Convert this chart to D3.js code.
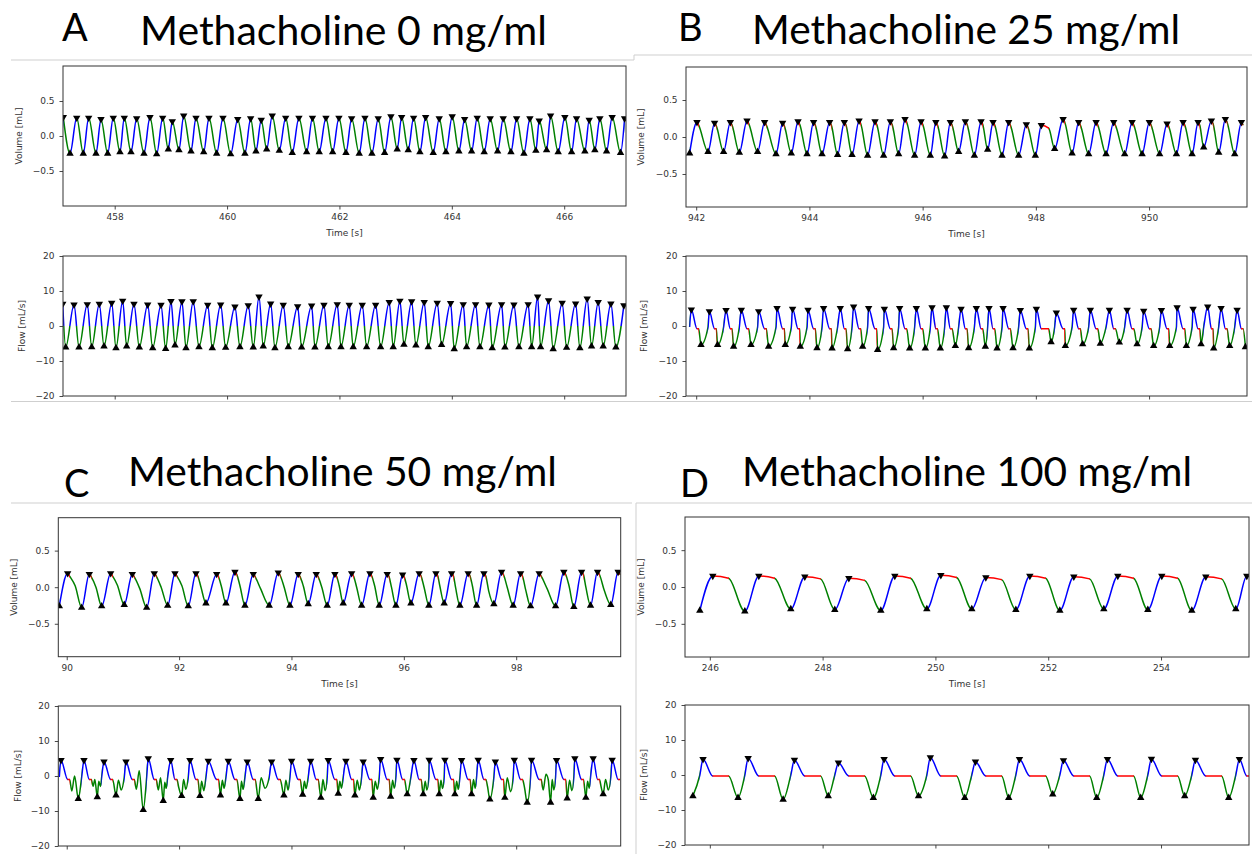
<!DOCTYPE html>
<html><head><meta charset="utf-8">
<script src="https://cdn.jsdelivr.net/npm/d3@7"></script>
<style>body{margin:0;background:#fff;}svg{display:block;}</style>
</head><body>
<svg id="fig" width="1252" height="854"></svg>
<script>
// ---------------- DATA ----------------
const letters = ["A","B","C","D"];
const titles = ["Methacholine 0 mg/ml","Methacholine 25 mg/ml","Methacholine 50 mg/ml","Methacholine 100 mg/ml"];
const volTicks = [0.5, 0, -0.5];
const flowTicks = [20, 10, 0, -10, -20];
const A_xTicks = [458,460,462,464,466];
const B_xTicks = [942,944,946,948,950];
const C_xTicks = [90,92,94,96,98];
const D_xTicks = [246,248,250,252,254];

// Panel A (0 mg/ml)
const A_volPeakT = [457.085,457.324,457.537,457.756,457.975,458.171,458.391,458.628,458.854,459.025,459.228,459.447,459.678,459.927,460.189,460.42,460.608,460.804,461.043,461.279,461.52,461.76,461.991,462.217,462.454,462.69,462.916,463.107,463.32,463.534,463.776,464.007,464.228,464.452,464.683,464.915,465.153,465.39,465.555,465.758,466.012,466.22,466.445,466.635,466.854,467.075];
const A_volPeakV = [0.27,0.26,0.26,0.24,0.26,0.26,0.25,0.27,0.26,0.21,0.29,0.26,0.26,0.26,0.24,0.25,0.23,0.29,0.26,0.26,0.26,0.26,0.26,0.25,0.26,0.25,0.28,0.27,0.26,0.27,0.25,0.28,0.24,0.26,0.25,0.25,0.25,0.25,0.22,0.29,0.27,0.25,0.23,0.25,0.27,0.25];
const A_volTroughT = [457.205,457.441,457.667,457.875,458.094,458.29,458.521,458.747,458.954,459.144,459.358,459.584,459.815,460.064,460.318,460.514,460.705,460.929,461.16,461.416,461.64,461.879,462.116,462.352,462.578,462.804,463.028,463.224,463.432,463.669,463.895,464.126,464.352,464.576,464.815,465.052,465.283,465.496,465.687,465.893,466.132,466.368,466.546,466.754,467.003];
const A_volTroughV = [-0.25,-0.25,-0.25,-0.25,-0.23,-0.23,-0.25,-0.26,-0.19,-0.2,-0.22,-0.23,-0.25,-0.26,-0.25,-0.22,-0.19,-0.21,-0.24,-0.23,-0.23,-0.23,-0.24,-0.25,-0.25,-0.24,-0.19,-0.2,-0.23,-0.24,-0.23,-0.22,-0.22,-0.23,-0.22,-0.23,-0.25,-0.21,-0.2,-0.23,-0.23,-0.22,-0.2,-0.22,-0.24];
const A_flowPeakT = [457.075,457.276,457.512,457.726,457.947,458.142,458.343,458.587,458.824,459.002,459.197,459.398,459.655,459.886,460.14,460.377,460.568,460.776,461.0,461.256,461.505,461.724,461.961,462.174,462.406,462.644,462.886,463.076,463.285,463.509,463.74,463.978,464.203,464.423,464.66,464.886,465.105,465.359,465.527,465.722,465.964,466.203,466.409,466.605,466.831,467.062];
const A_flowPeakV = [6.3,6.1,6.2,6.3,6.6,7.2,6.3,6.1,6.0,7.1,7.0,7.0,6.0,6.1,5.5,5.9,8.4,6.4,6.0,5.6,5.8,6.0,6.2,6.0,6.0,6.0,6.8,7.2,7.0,6.8,6.6,6.5,6.2,6.2,6.1,6.2,6.1,6.2,8.4,7.3,6.6,6.4,7.8,6.8,6.4,5.9];
const A_flowTroughT = [457.128,457.365,457.591,457.81,458.023,458.213,458.438,458.676,458.907,459.073,459.269,459.5,459.737,459.975,460.229,460.466,460.644,460.852,461.089,461.327,461.564,461.801,462.027,462.245,462.484,462.733,462.957,463.148,463.361,463.58,463.818,464.043,464.263,464.5,464.719,464.945,465.194,465.42,465.58,465.804,466.043,466.279,466.487,466.694,466.92];
const A_flowTroughV = [-6.1,-6.1,-6.0,-5.8,-6.3,-5.8,-6.1,-6.3,-6.5,-5.5,-6.3,-6.0,-6.3,-6.2,-6.0,-6.1,-5.8,-6.3,-6.0,-6.1,-6.1,-6.0,-6.0,-6.0,-6.0,-6.0,-6.0,-5.3,-5.5,-6.0,-5.4,-6.6,-6.0,-6.0,-6.3,-6.1,-6.0,-6.0,-6.0,-6.6,-6.2,-6.3,-5.8,-5.8,-6.1];

// Panel B (25 mg/ml)
const B_volPeakT = [942.014,942.325,942.603,942.898,943.209,943.527,943.799,944.074,944.357,944.617,944.877,945.159,945.43,945.689,945.972,946.233,946.49,946.755,947.032,947.244,947.52,947.832,948.097,948.481,948.756,949.064,949.375,949.70,950.005,950.318,950.601,950.866,951.101,951.348,951.631];
const B_volPeakV = [0.20,0.19,0.20,0.22,0.20,0.19,0.21,0.20,0.20,0.20,0.22,0.21,0.21,0.24,0.21,0.20,0.20,0.21,0.21,0.20,0.20,0.17,0.16,0.24,0.20,0.20,0.20,0.20,0.20,0.18,0.20,0.20,0.22,0.24,0.20];
const B_pause = [0.03,0.03,0.03,0.03,0.03,0.03,0.03,0.03,0.03,0.03,0.03,0.03,0.03,0.03,0.03,0.03,0.03,0.03,0.03,0.03,0.03,0.03,0.13,0.03,0.03,0.03,0.03,0.03,0.03,0.03,0.03,0.03,0.03,0.03,0.03];
const B_volTroughT = [941.884,942.209,942.484,942.762,943.085,943.41,943.68,943.958,944.223,944.498,944.753,945.028,945.311,945.576,945.859,946.136,946.389,946.636,946.914,947.149,947.403,947.696,947.991,948.332,948.64,948.933,949.24,949.569,949.877,950.187,950.483,950.76,950.965,951.23,951.513];
const B_volTroughV = [-0.22,-0.20,-0.20,-0.21,-0.20,-0.23,-0.22,-0.23,-0.23,-0.24,-0.24,-0.25,-0.25,-0.23,-0.25,-0.25,-0.26,-0.20,-0.25,-0.17,-0.25,-0.25,-0.25,-0.16,-0.22,-0.23,-0.23,-0.23,-0.23,-0.23,-0.23,-0.23,-0.14,-0.21,-0.23];
const B_flowPeakT = [941.914,942.232,942.527,942.797,943.103,943.428,943.703,943.975,944.251,944.546,944.781,945.046,945.324,945.594,945.889,946.166,946.419,946.679,946.949,947.173,947.421,947.726,948.009,948.362,948.668,948.963,949.299,949.612,949.905,950.218,950.495,950.778,951.036,951.272,951.555];
const B_flowPeakV = [4.7,4.2,4.5,4.6,4.2,5.1,4.9,4.6,5.1,5.1,5.5,5.1,4.9,5.1,5.1,5.3,5.3,4.9,5.1,5.1,5.1,4.5,4.9,3.8,4.6,4.6,4.6,4.6,4.3,4.5,5.3,4.9,5.5,5.1,4.6];
const B_flowTroughT = [942.085,942.378,942.661,942.968,943.279,943.574,943.839,944.134,944.40,944.675,944.94,945.205,945.488,945.771,946.048,946.313,946.578,946.813,947.108,947.315,947.597,947.885,948.269,948.521,948.827,949.14,949.475,949.788,950.081,950.364,950.659,950.919,951.142,951.424,951.702];
const B_flowTroughV = [-5.4,-5.4,-5.9,-5.4,-5.9,-5.4,-5.9,-6.3,-6.4,-6.6,-5.9,-6.8,-6.3,-6.4,-6.4,-6.4,-5.7,-6.3,-5.9,-6.4,-6.3,-6.4,-4.6,-5.7,-5.2,-5.0,-4.7,-5.2,-5.7,-5.7,-5.7,-5.2,-6.4,-5.7,-6.0];

// Panel C (50 mg/ml)
const C_volPeakT = [90.017,90.402,90.782,91.167,91.558,91.927,92.30,92.669,92.994,93.32,93.765,94.12,94.441,94.773,95.071,95.396,95.704,95.978,96.273,96.571,96.85,97.145,97.425,97.74,98.078,98.409,98.848,99.163,99.448,99.814];
const C_volPeakV = [0.19,0.18,0.19,0.18,0.19,0.19,0.19,0.18,0.21,0.18,0.20,0.18,0.18,0.18,0.19,0.19,0.18,0.17,0.19,0.19,0.19,0.19,0.19,0.21,0.19,0.19,0.21,0.21,0.21,0.21];
const C_pause = [0.035,0.035,0.035,0.035,0.035,0.035,0.035,0.035,0.035,0.035,0.035,0.035,0.035,0.035,0.035,0.035,0.035,0.035,0.035,0.035,0.035,0.035,0.035,0.035,0.035,0.035,0.035,0.035,0.035,0.035];
const C_volTroughT = [89.868,90.266,90.622,91.024,91.423,91.797,92.163,92.478,92.834,93.172,93.604,93.973,94.298,94.636,94.921,95.249,95.562,95.859,96.126,96.446,96.718,96.998,97.295,97.603,97.946,98.256,98.701,99.026,99.323,99.684];
const C_volTroughV = [-0.26,-0.28,-0.26,-0.24,-0.28,-0.25,-0.26,-0.22,-0.22,-0.25,-0.25,-0.25,-0.23,-0.25,-0.22,-0.25,-0.25,-0.25,-0.22,-0.25,-0.22,-0.25,-0.25,-0.23,-0.25,-0.26,-0.26,-0.27,-0.25,-0.24];
const C_volPlateauT = [90.15,90.52,90.9,91.3,91.68,92.05,92.39,92.75,93.08,93.45,93.87,94.21,94.54,94.85,95.16,95.48,95.78,96.05,96.36,96.64,96.92,97.22,97.51,97.84,98.17,98.55,98.94,99.24,99.57];
const C_volPlateauV = [0.02,0.0,0.03,-0.02,0.0,0.02,0.0,0.02,0.03,-0.02,0.0,0.02,0.0,0.02,0.0,0.02,0.0,0.02,0.0,0.02,0.0,0.02,-0.05,0.0,-0.04,-0.02,0.02,0.0,-0.05];
const C_flowPeakT = [89.898,90.307,90.663,91.055,91.451,91.85,92.193,92.519,92.875,93.213,93.647,94.003,94.341,94.654,94.969,95.277,95.587,95.877,96.179,96.451,96.731,97.028,97.323,97.629,97.967,98.273,98.718,99.044,99.37,99.708];
const C_flowPeakV = [4.5,4.5,4.1,4.1,5.0,4.5,4.5,4.3,4.3,4.1,4.1,4.3,4.3,4.5,4.3,4.1,4.8,4.6,4.5,4.6,4.6,4.5,4.6,4.1,4.6,4.6,4.5,5.0,5.0,4.6];
const C_flowTroughT = [90.206,90.544,90.877,91.362,91.718,92.046,92.371,92.736,93.083,93.409,93.866,94.199,94.524,94.832,95.129,95.455,95.765,96.06,96.345,96.629,96.909,97.206,97.531,97.798,98.195,98.612,98.907,99.24,99.548];
const C_flowTroughV = [-6.5,-6.0,-5.5,-9.7,-7.1,-5.7,-5.7,-5.5,-6.5,-6.5,-5.5,-5.3,-6.2,-5.0,-5.5,-6.2,-5.9,-5.2,-5.2,-5.2,-5.2,-5.2,-6.7,-6.2,-7.6,-7.6,-6.4,-6.2,-5.2];
// secondary dips / recoveries in the jagged expiratory flow of panel C
const C_flowWiggleT = [90.09,90.14,90.47,90.50,90.57,90.60,90.92,90.97,91.24,91.29,91.63,91.67,91.745,91.77,91.99,92.08,92.12,92.40,92.44,92.77,92.80,93.11,93.14,93.46,93.53,93.90,93.94,94.23,94.26,94.56,94.60,94.86,94.89,95.17,95.21,95.49,95.53,95.80,95.83,96.38,96.41,96.66,96.69,96.94,96.97,97.24,97.27,97.49,97.84,97.90,98.15,98.48,98.53,98.57,98.64,98.67,98.95,98.99,99.27,99.30,99.51,99.59,99.64];
const C_flowWiggleV = [-4.3,0.0,-2.9,-1.0,-1.5,-3.0,-1.2,-4.0,-3.8,1.5,-4.0,-0.5,-1.8,-3.5,-3.0,-1.0,-3.8,-1.5,-4.2,-1.2,-3.5,-1.5,-3.8,-0.5,-3.5,-1.2,-4.0,-1.5,-3.6,-1.0,-4.2,-1.5,-3.5,-1.2,-4.0,-1.5,-3.8,-1.2,-3.5,-1.5,-4.0,-1.2,-3.6,-1.5,-3.8,-1.0,-3.5,-3.0,-0.5,-4.5,-3.5,-4.0,0.5,-1.0,-1.0,-4.0,-1.2,-4.2,-1.5,-3.5,-3.0,-1.0,-4.0];

// Panel D (100 mg/ml)
const D_volPeakT = [246.053,246.869,247.684,248.465,249.28,250.096,250.894,251.674,252.454,253.234,254.014,254.794,255.521];
const D_volPeakV = [0.15,0.15,0.14,0.12,0.15,0.16,0.13,0.15,0.14,0.15,0.15,0.14,0.15];
const D_pause = [0.28,0.28,0.28,0.28,0.28,0.28,0.28,0.28,0.28,0.28,0.28,0.28,0.28];
const D_volTroughT = [245.823,246.621,247.436,248.216,249.032,249.848,250.645,251.426,252.206,252.986,253.766,254.546,255.326];
const D_volTroughV = [-0.32,-0.33,-0.30,-0.31,-0.32,-0.30,-0.30,-0.31,-0.32,-0.30,-0.31,-0.32,-0.30];
const D_flowPeakT = [245.88,246.68,247.5,248.28,249.09,249.91,250.71,251.49,252.27,253.05,253.83,254.61,255.39];
const D_flowPeakV = [4.5,4.8,4.3,3.5,4.5,5.0,3.8,4.5,4.2,4.5,4.6,4.3,4.5];
const D_flowTroughT = [245.7,246.5,247.3,248.1,248.9,249.7,250.52,251.3,252.08,252.86,253.64,254.42,255.2];
const D_flowTroughV = [-6.0,-6.5,-7.0,-6.0,-6.5,-6.0,-6.5,-6.5,-5.5,-6.5,-6.5,-6.0,-6.5];

// ---------------- LAYOUT ----------------
const layouts = [
  {x0:63, x1:626, vy0:66, vy1:206, fy0:256, fy1:396, lx:62, ly:41, tx:140, ty:45, tw:407, vlab:22, flab:25, xDom:[457.08,467.1], vDom:[-1,1]},
  {x0:686, x1:1247, vy0:67, vy1:207, fy0:256, fy1:396, lx:678, ly:41, tx:752, ty:44, tw:428, vlab:644, flab:647, xDom:[941.82,951.73], vDom:[-0.946,0.946]},
  {x0:58.3, x1:620.7, vy0:517.7, vy1:656.7, fy0:706, fy1:846, lx:64, ly:497, tx:128, ty:486, tw:429, vlab:17, flab:21, xDom:[89.85,99.86], vDom:[-0.95,0.95]},
  {x0:685, x1:1249, vy0:517, vy1:657, fy0:705, fy1:845, lx:680, ly:497, tx:742, ty:486, tw:450, vlab:644, flab:647, xDom:[245.56,255.56], vDom:[-0.95,0.95]}
];

const panels = [
  {key:"A", xTicks:A_xTicks, vPT:A_volPeakT, vPV:A_volPeakV, vTT:A_volTroughT, vTV:A_volTroughV, fPT:A_flowPeakT, fPV:A_flowPeakV, fTT:A_flowTroughT, fTV:A_flowTroughV, pause:null, signColor:true},
  {key:"B", xTicks:B_xTicks, vPT:B_volPeakT, vPV:B_volPeakV, vTT:B_volTroughT, vTV:B_volTroughV, fPT:B_flowPeakT, fPV:B_flowPeakV, fTT:B_flowTroughT, fTV:B_flowTroughV, pause:B_pause, volDrop:0.04, flowPause:-0.8, flowStart:-0.3},
  {key:"C", xTicks:C_xTicks, vPT:C_volPeakT, vPV:C_volPeakV, vTT:C_volTroughT, vTV:C_volTroughV, fPT:C_flowPeakT, fPV:C_flowPeakV, fTT:C_flowTroughT, fTV:C_flowTroughV, pause:C_pause, volDrop:0.04, flowPause:-1.0, flowStart:-0.3,
    vXT:C_volPlateauT, vXV:C_volPlateauV, fXT:C_flowWiggleT, fXV:C_flowWiggleV},
  {key:"D", xTicks:D_xTicks, vPT:D_volPeakT, vPV:D_volPeakV, vTT:D_volTroughT, vTV:D_volTroughV, fPT:D_flowPeakT, fPV:D_flowPeakV, fTT:D_flowTroughT, fTV:D_flowTroughV, pause:D_pause, volDrop:0.03, flowPause:-0.3, flowStart:0}
];

const COL = {blue:"#0000ff", green:"#008000", red:"#ff0000"};
const FONT = "'DejaVu Sans', sans-serif";
const TFONT = "Lato, 'Open Sans', sans-serif";
const svg = d3.select("#fig");
const defs = svg.append("defs");

const frame = [[11,60,634,60],[634,55,634,60],[634,55,1252,55],[11,401.5,1252,401.5],[11,503,632,503],[636,503,1252,503],[636,503,636,854]];
svg.append("g").selectAll("line").data(frame).join("line")
  .attr("x1",d=>d[0]).attr("y1",d=>d[1]).attr("x2",d=>d[2]).attr("y2",d=>d[3])
  .attr("stroke","#cfcfcf").attr("stroke-width",1);

function drawPanel(P, L, idx) {
  const g = svg.append("g");
  g.append("text").attr("x",L.lx).attr("y",L.ly).text(letters[idx])
    .attr("font-family",TFONT).attr("font-size",38).attr("fill","#000");
  g.append("text").attr("x",L.tx).attr("y",L.ty).text(titles[idx])
    .attr("font-family",TFONT).attr("font-size",40).attr("fill","#000")
    .attr("textLength",L.tw).attr("lengthAdjust","spacingAndGlyphs");

  const x = d3.scaleLinear().domain(L.xDom).range([L.x0, L.x1]);
  const yV = d3.scaleLinear().domain(L.vDom).range([L.vy1, L.vy0]);
  const yF = d3.scaleLinear().domain([-20,20]).range([L.fy1, L.fy0]);

  const peaks = P.vPT.map((t,i)=>({t, v:P.vPV[i], pause:P.pause?P.pause[i]:0, type:"P"}));
  const troughs = P.vTT.map((t,i)=>({t, v:P.vTV[i], type:"T"}));
  const ev = peaks.concat(troughs).sort((a,b)=>a.t-b.t);
  const iv = {blue:[], red:[], green:[]};
  let state = ev[0].type==="T" ? "green" : "blue";
  let s = L.xDom[0]-1;
  for (const e of ev) {
    iv[state].push([s,e.t]);
    if (e.type==="T") { state="blue"; s=e.t; }
    else {
      if (e.pause>0) { iv.red.push([e.t, e.t+e.pause]); s=e.t+e.pause; } else s=e.t;
      state="green";
    }
  }
  iv[state].push([s, L.xDom[1]+1]);

  const volPts = [];
  troughs.forEach(d=>volPts.push([d.t,d.v]));
  peaks.forEach(d=>{ volPts.push([d.t,d.v]); if(d.pause>0) volPts.push([d.t+d.pause, d.v-P.volDrop]); });
  if (P.vXT) P.vXT.forEach((t,i)=>volPts.push([t,P.vXV[i]]));
  volPts.sort((a,b)=>a[0]-b[0]);

  const flowPts = [];
  P.fPT.forEach((t,i)=>flowPts.push([t,P.fPV[i]]));
  P.fTT.forEach((t,i)=>flowPts.push([t,P.fTV[i]]));
  if (P.fXT) P.fXT.forEach((t,i)=>flowPts.push([t,P.fXV[i]]));
  if (!P.signColor) {
    troughs.forEach(d=>flowPts.push([d.t, P.flowStart]));
    peaks.forEach(d=>{ flowPts.push([d.t, P.flowPause]); if(d.pause>0) flowPts.push([d.t+d.pause, P.flowPause]); });
  }
  flowPts.sort((a,b)=>a[0]-b[0]);

  function sub(name, y0, y1, yScale, pts, peakT, peakV, troughT, troughV, yt, yfmt, ylab, labX, showX, signColor) {
    const id = P.key+"-"+name;
    defs.append("clipPath").attr("id",id+"-box").append("rect")
      .attr("x",L.x0).attr("y",y0).attr("width",L.x1-L.x0).attr("height",y1-y0);
    const line = d3.line().x(d=>x(d[0])).y(d=>yScale(d[1])).curve(d3.curveMonotoneX);
    const colors = signColor ? ["blue","green"] : ["green","blue","red"];
    colors.forEach(c=>{
      const cp = defs.append("clipPath").attr("id",id+"-"+c);
      if (signColor) {
        const z = yScale(0);
        if (c==="blue") cp.append("rect").attr("x",L.x0).attr("y",y0).attr("width",L.x1-L.x0).attr("height",z-y0);
        else cp.append("rect").attr("x",L.x0).attr("y",z).attr("width",L.x1-L.x0).attr("height",y1-z);
      } else {
        iv[c].forEach(([a,b])=>{
          const xa = Math.max(L.x0, x(a)-0.3), xb = Math.min(L.x1, x(b)+0.3);
          if (xb>xa) cp.append("rect").attr("x",xa).attr("y",y0).attr("width",xb-xa).attr("height",y1-y0);
        });
      }
      g.append("path").datum(pts).attr("d",line).attr("fill","none")
        .attr("stroke",COL[c]).attr("stroke-width",1.5).attr("stroke-linejoin","round")
        .attr("clip-path",`url(#${id}-${c})`);
    });
    const mg = g.append("g").attr("clip-path",`url(#${id}-box)`);
    const sym = d3.symbol(d3.symbolTriangle, 24);
    mg.selectAll(".pk").data(peakT.map((t,i)=>[t,peakV[i]])).join("path")
      .attr("d",sym).attr("fill","#000")
      .attr("transform",d=>`translate(${x(d[0])},${yScale(d[1])}) rotate(180)`);
    mg.selectAll(".tr").data(troughT.map((t,i)=>[t,troughV[i]])).join("path")
      .attr("d",sym).attr("fill","#000")
      .attr("transform",d=>`translate(${x(d[0])},${yScale(d[1])})`);
    const ax = g.append("g").attr("transform",`translate(0,${y1})`)
      .call(d3.axisBottom(x).tickValues(P.xTicks).tickSize(3.5).tickPadding(4.5)
        .tickFormat(showX ? d3.format("d") : ""));
    const ay = g.append("g").attr("transform",`translate(${L.x0},0)`)
      .call(d3.axisLeft(yScale).tickValues(yt).tickSize(3.5).tickPadding(5).tickFormat(yfmt));
    [ax, ay].forEach(a=>{
      a.select(".domain").remove();
      a.selectAll("line").attr("stroke","#333").attr("stroke-width",0.9);
      a.selectAll("text").attr("font-family",FONT).attr("font-size",9).attr("fill","#333");
    });
    g.append("rect").attr("x",L.x0).attr("y",y0).attr("width",L.x1-L.x0).attr("height",y1-y0)
      .attr("fill","none").attr("stroke","#333").attr("stroke-width",1);
    g.append("text").attr("transform",`translate(${labX},${(y0+y1)/2}) rotate(-90)`)
      .attr("text-anchor","middle").attr("font-family",FONT).attr("font-size",9).attr("fill","#333").text(ylab);
    if (showX) {
      g.append("text").attr("x",(L.x0+L.x1)/2).attr("y",y1+30).attr("text-anchor","middle")
        .attr("font-family",FONT).attr("font-size",9).attr("fill","#333").text("Time [s]");
    }
  }
  sub("vol", L.vy0, L.vy1, yV, volPts, P.vPT, P.vPV, P.vTT, P.vTV, volTicks, d3.format(".1f"), "Volume [mL]", L.vlab, true, false);
  sub("flow", L.fy0, L.fy1, yF, flowPts, P.fPT, P.fPV, P.fTT, P.fTV, flowTicks, d3.format("d"), "Flow [mL/s]", L.flab, false, !!P.signColor);
}

panels.forEach((P,i)=>drawPanel(P, layouts[i], i));
</script>
</body></html>
